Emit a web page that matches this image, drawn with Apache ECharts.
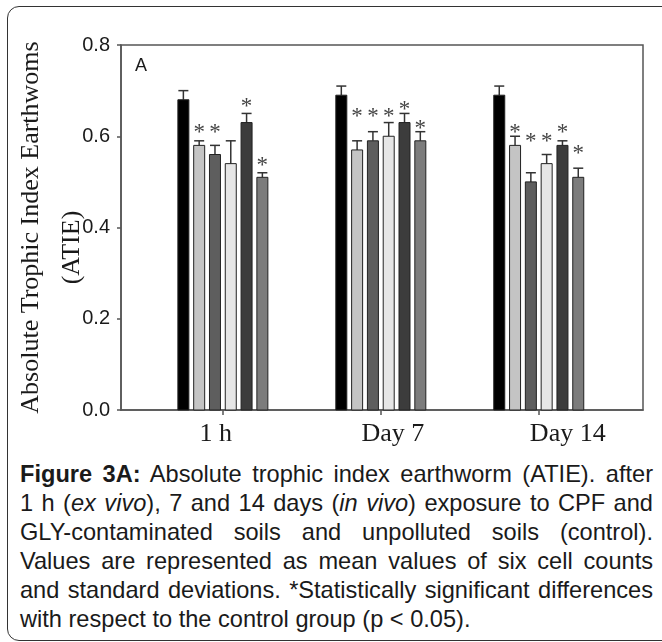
<!DOCTYPE html>
<html>
<head>
<meta charset="utf-8">
<script src="https://cdn.jsdelivr.net/npm/echarts@6/dist/echarts.min.js"></script>
<style>
html, body { margin: 0; padding: 0; background: #fff; }
body { width: 662px; height: 642px; position: relative; overflow: hidden; }
.frame {
  position: absolute; left: 7px; top: 6px; width: 680px; height: 633px;
  border: 1.5px solid #333; border-radius: 12px;
}
#chart { position: absolute; left: 0; top: 0; width: 662px; height: 460px; }
.caption {
  position: absolute; left: 20px; top: 460px; width: 633px;
  font-family: "Liberation Sans", Arial, sans-serif; font-size: 23.6px;
  line-height: 29px; color: #1a1a1a;
}
.caption div { white-space: nowrap; text-align: justify; text-align-last: justify; }
.caption div.last { text-align-last: left; }
</style>
</head>
<body>
<div class="frame"></div>
<div id="chart"></div>
<div class="caption">
  <div><b>Figure 3A:</b> Absolute trophic index earthworm (ATIE). after</div>
  <div>1 h (<i>ex vivo</i>), 7 and 14 days (<i>in vivo</i>) exposure to CPF and</div>
  <div>GLY-contaminated soils and unpolluted soils (control).</div>
  <div>Values are represented as mean values of six cell counts</div>
  <div>and standard deviations. *Statistically significant differences</div>
  <div class="last">with respect to the control group (p &lt; 0.05).</div>
</div>
<script>
// data
const categories = ['1 h', 'Day 7', 'Day 14']
const yTicks = [0, 0.2, 0.4, 0.6, 0.8]

const control = [0.68, 0.69, 0.69]
const group2 = [0.58, 0.57, 0.58]
const group3 = [0.56, 0.59, 0.50]
const group4 = [0.54, 0.60, 0.54]
const group5 = [0.63, 0.63, 0.58]
const group6 = [0.51, 0.59, 0.51]

const controlErr = [0.02, 0.02, 0.02]
const group2Err = [0.01, 0.02, 0.02]
const group3Err = [0.02, 0.02, 0.02]
const group4Err = [0.05, 0.03, 0.02]
const group5Err = [0.02, 0.02, 0.01]
const group6Err = [0.01, 0.02, 0.02]

// height of the significance star (null = no star)
const controlStar = [null, null, null]
const group2Star = [0.618, 0.654, 0.619]
const group3Star = [0.618, 0.654, 0.599]
const group4Star = [null, 0.654, 0.599]
const group5Star = [0.676, 0.668, 0.619]
const group6Star = [0.546, 0.626, 0.572]

const values = [control, group2, group3, group4, group5, group6]
const errors = [controlErr, group2Err, group3Err, group4Err, group5Err, group6Err]
const stars = [controlStar, group2Star, group3Star, group4Star, group5Star, group6Star]
const names = ['Control', 'Group 2', 'Group 3', 'Group 4', 'Group 5', 'Group 6']
const colors = ['#000000', '#c4c4c4', '#5e5e5e', '#e6e6e6', '#3c3c3c', '#7c7c7c']

const BAR_W = 11
const STEP = 15.8
const labelShift = [-7, 12, 29]   // x label offsets as in the original figure

const chart = echarts.init(document.getElementById('chart'))

// bars drawn as custom series so the value x axis keeps its fixed extent
const series = values.map((vals, k) => ({
  name: names[k],
  type: 'custom',
  z: 5,
  silent: true,
  data: vals.map((v, i) => [i, v, errors[k][i]]),
  renderItem: function (params, api) {
    const off = (k - (values.length - 1) / 2) * STEP
    const zero = api.coord([api.value(0), 0])
    const base = api.coord([api.value(0), api.value(1)])
    const top = api.coord([api.value(0), api.value(1) + api.value(2)])
    const x = base[0] + off
    const st = { stroke: '#333', lineWidth: 1.5 }
    const children = [
      { type: 'line', shape: { x1: x, y1: base[1], x2: x, y2: top[1] }, style: st },
      { type: 'line', shape: { x1: x - 5, y1: top[1], x2: x + 5, y2: top[1] }, style: st },
      {
        type: 'rect',
        shape: { x: x - BAR_W / 2, y: base[1], width: BAR_W, height: zero[1] - base[1] },
        style: { fill: colors[k], stroke: '#222', lineWidth: 1 }
      }
    ]
    const s = stars[k][params.dataIndex]
    if (s != null) {
      const p = api.coord([api.value(0), s])
      children.push({
        type: 'text', x: x, y: p[1] + 5,
        style: {
          text: '*', fill: '#444', align: 'center', verticalAlign: 'middle',
          font: '23px "Liberation Serif", serif'
        }
      })
    }
    return { type: 'group', children: children }
  }
}))

chart.setOption({
  animation: false,
  grid: {
    left: 121, top: 45, width: 522, height: 365,
    outerBoundsMode: 'none',
    containLabel: false,
    show: true, borderColor: '#555', borderWidth: 1.5
  },
  xAxis: {
    type: 'value',
    min: -0.645,
    max: 2.66,
    splitLine: { show: false },
    axisLine: { onZero: false, lineStyle: { color: '#555', width: 1.5 } },
    axisTick: { customValues: [0, 1, 2], length: 5, lineStyle: { color: '#555', width: 1.5 } },
    axisLabel: {
      customValues: [0, 1, 2],
      margin: 11,
      formatter: function (v) {
        const i = Math.round(v)
        const d = labelShift[i]
        return '{' + (d > 0 ? 'r' : 'l') + i + '|' + categories[i] + '}'
      },
      rich: {
        l0: { padding: [0, -2 * labelShift[0], 0, 0] },
        r1: { padding: [0, 0, 0, 2 * labelShift[1]] },
        r2: { padding: [0, 0, 0, 2 * labelShift[2]] }
      },
      fontFamily: '"Liberation Serif", serif',
      fontSize: 26,
      color: '#1a1a1a'
    }
  },
  yAxis: {
    type: 'value',
    min: 0,
    max: 0.8,
    interval: 0.2,
    splitLine: { show: false },
    axisLine: { show: true, onZero: false, lineStyle: { color: '#555', width: 1.5 } },
    axisTick: { show: true, length: 4, lineStyle: { color: '#555', width: 1.5 } },
    axisLabel: {
      margin: 11,
      formatter: function (v) { return v.toFixed(1) },
      fontFamily: '"Liberation Sans", Arial, sans-serif',
      fontSize: 20,
      color: '#1a1a1a'
    },
    name: 'Absolute Trophic Index Earthwoms\n{b|(ATIE)}',
    nameLocation: 'middle',
    nameGap: 28,
    nameMoveOverlap: false,
    nameTextStyle: {
      fontFamily: '"Liberation Serif", serif',
      fontSize: 26,
      lineHeight: 41,
      color: '#1a1a1a',
      rich: {
        b: { fontFamily: '"Liberation Serif", serif', fontSize: 26, lineHeight: 41, color: '#1a1a1a', padding: [0, 40, 0, 0] }
      }
    }
  },
  graphic: [{
    type: 'text', left: 135, top: 57,
    style: { text: 'A', font: '18px "Liberation Sans", Arial, sans-serif', fill: '#1a1a1a' }
  }],
  series: series
})
</script>
</body>
</html>
